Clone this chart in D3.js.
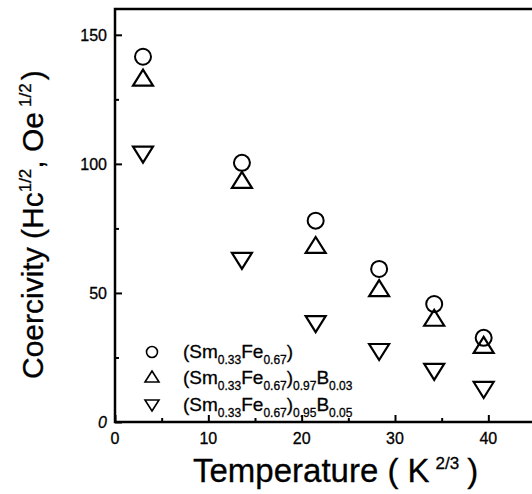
<!DOCTYPE html>
<html>
<head>
<meta charset="utf-8">
<script src="https://cdn.jsdelivr.net/npm/d3@7"></script>
<style>
  body { margin: 0; background: #fff; }
  svg { font-family: "Liberation Sans", Arial, sans-serif; }
</style>
</head>
<body>
<svg id="chart" width="532" height="494"></svg>
<script>
// values
const temps = [3.0, 13.6, 21.5, 28.3, 34.2, 39.5];
const smFe = [141.5, 100.4, 78.0, 59.3, 45.7, 32.6];
const smFeB03 = [133.0, 93.4, 68.2, 51.5, 40.0, 29.5];
const smFeB05 = [104.0, 62.8, 38.3, 27.5, 19.8, 12.8];
const xTicks = [0, 10, 20, 30, 40];
const yTicks = [0, 50, 100, 150];

const width = 532;
const height = 494;
const padLeft = 115, padRight = 535, padTop = 9, padBottom = 422;

const svg = d3.select('#chart');

const xScale = d3.scaleLinear().domain([0, 45]).range([padLeft, padRight]);
const yScale = d3.scaleLinear().domain([0, 160]).range([padBottom, padTop]);

// axes, ticks pointing inward
const xAxis = d3.axisTop(xScale).tickValues(xTicks).tickSize(7).tickFormat('');
const xMinor = d3.axisTop(xScale).tickValues([5, 15, 25, 35, 45]).tickSize(4).tickFormat('');
const yAxis = d3.axisRight(yScale).tickValues(yTicks).tickSize(7).tickFormat('');
const yMinor = d3.axisRight(yScale).tickValues([25, 75, 125]).tickSize(4).tickFormat('');

[xAxis, xMinor].forEach(ax => {
  svg.append('g').attr('transform', 'translate(0,' + padBottom + ')').call(ax)
    .call(g => g.select('.domain').remove())
    .selectAll('line').attr('stroke', '#000').attr('stroke-width', 2);
});
[yAxis, yMinor].forEach(ax => {
  svg.append('g').attr('transform', 'translate(' + padLeft + ',0)').call(ax)
    .call(g => g.select('.domain').remove())
    .selectAll('line').attr('stroke', '#000').attr('stroke-width', 2);
});

// frame
svg.append('path')
  .attr('d', 'M' + padRight + ',' + padTop + 'H' + padLeft + 'V' + padBottom + 'H' + padRight)
  .attr('fill', 'none').attr('stroke', '#000').attr('stroke-width', 2.5);

// tick labels
svg.append('g').selectAll('text').data(xTicks).enter().append('text')
  .attr('x', d => xScale(d)).attr('y', padBottom + 22)
  .attr('text-anchor', 'middle').attr('font-size', 16)
  .attr('stroke', '#000').attr('stroke-width', 0.3)
  .text(d => d);
svg.append('g').selectAll('text').data(yTicks).enter().append('text')
  .attr('x', padLeft - 8).attr('y', d => yScale(d) + 6)
  .attr('text-anchor', 'end').attr('font-size', 16)
  .attr('stroke', '#000').attr('stroke-width', 0.3)
  .attr('font-style', d => d === 0 ? 'italic' : 'normal')
  .text(d => d);

// data markers
function drawSeries(vals, kind) {
  const g = svg.append('g');
  const sel = g.selectAll('.m').data(vals).enter();
  if (kind === 'circle') {
    sel.append('circle')
      .attr('cx', (d, i) => xScale(temps[i]))
      .attr('cy', d => yScale(d))
      .attr('r', 8)
      .attr('fill', 'none').attr('stroke', '#000').attr('stroke-width', 2);
  } else {
    sel.append('path')
      .attr('d', 'M0,-9L10,7L-10,7Z')
      .attr('transform', (d, i) => 'translate(' + xScale(temps[i]) + ',' + yScale(d) + ')' + (kind === 'down' ? ' scale(1,-1)' : ''))
      .attr('fill', 'none').attr('stroke', '#000').attr('stroke-width', 2.2);
  }
}
drawSeries(smFe, 'circle');
drawSeries(smFeB03, 'up');
drawSeries(smFeB05, 'down');

// legend
const legend = svg.append('g');
legend.append('circle').attr('cx', 152).attr('cy', 352).attr('r', 5.5)
  .attr('fill', 'none').attr('stroke', '#000').attr('stroke-width', 1.6);
legend.append('path').attr('d', 'M0,-6L7,5L-7,5Z')
  .attr('transform', 'translate(152,377)')
  .attr('fill', 'none').attr('stroke', '#000').attr('stroke-width', 1.6);
legend.append('path').attr('d', 'M0,-6L7,5L-7,5Z')
  .attr('transform', 'translate(152,405) scale(1,-1)')
  .attr('fill', 'none').attr('stroke', '#000').attr('stroke-width', 1.6);

const labels = [
  [['(Sm', 0], ['0.33', 1], ['Fe', 0], ['0.67', 1], [')', 0]],
  [['(Sm', 0], ['0.33', 1], ['Fe', 0], ['0.67', 1], [')', 0], ['0.97', 1], ['B', 0], ['0.03', 1]],
  [['(Sm', 0], ['0.33', 1], ['Fe', 0], ['0.67', 1], [')', 0], ['0.95', 1], ['B', 0], ['0.05', 1]]
];
const legendY = [358, 384, 411];
labels.forEach((parts, i) => {
  const t = legend.append('text').attr('x', 183).attr('y', legendY[i])
    .attr('font-size', 19).attr('stroke', '#000').attr('stroke-width', 0.3);
  let prevSub = 0;
  parts.forEach(p => {
    const dy = (p[1] - prevSub) * 6;
    t.append('tspan').attr('dy', dy).attr('font-size', p[1] ? 12 : 19).text(p[0]);
    prevSub = p[1];
  });
});

// axis titles
const xt = svg.append('text').attr('x', 193).attr('y', 482).attr('font-size', 33)
  .attr('stroke', '#000').attr('stroke-width', 0.3);
xt.append('tspan').text('Temperature ( K');
xt.append('tspan').attr('dy', -13).attr('dx', 6).attr('font-size', 17).text('2/3');
xt.append('tspan').attr('dy', 13).attr('dx', 8).text(')');

const yt = svg.append('text')
  .attr('transform', 'translate(43,379) rotate(-90)')
  .attr('font-size', 30).attr('stroke', '#000').attr('stroke-width', 0.3);
yt.append('tspan').text('Coercivity (Hc');
yt.append('tspan').attr('dy', -12).attr('font-size', 17).text('1/2');
yt.append('tspan').attr('dy', 12).text(', Oe');
yt.append('tspan').attr('dy', -12).attr('dx', 5).attr('font-size', 17).text('1/2');
yt.append('tspan').attr('dy', 12).attr('dx', 3).text(')');
</script>
</body>
</html>
